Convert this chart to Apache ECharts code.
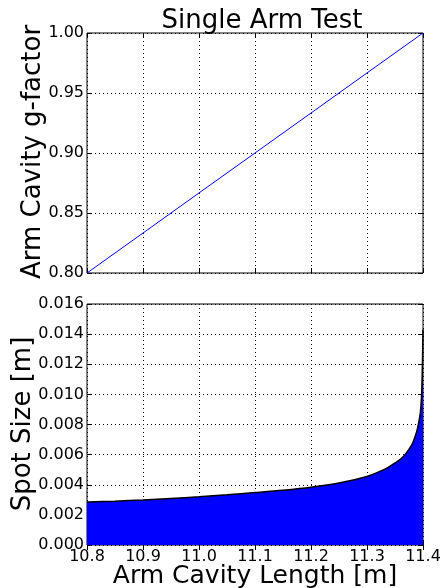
<!DOCTYPE html>
<html><head><meta charset="utf-8">
<script src="https://cdn.jsdelivr.net/npm/echarts@6/dist/echarts.min.js"></script>
<style>html,body{margin:0;padding:0;background:#fff}#c{width:443px;height:588px}</style>
</head><body><div id="c"></div>
<script>
var title = "Single Arm Test";
var xName = "Arm Cavity Length [m]";
var yName1 = "Arm Cavity g-factor";
var yName2 = "Spot Size [m]";
var gLength = [10.8, 10.9, 11.0, 11.1, 11.2, 11.3, 11.4];
var gFactor = [0.8, 0.8333, 0.8667, 0.9, 0.9333, 0.9667, 1.0];
var spotLength = [10.80, 10.85, 10.90, 10.95, 11.00, 11.05, 11.10, 11.15, 11.20, 11.25, 11.30, 11.33, 11.35, 11.36, 11.37, 11.38, 11.385, 11.39, 11.395, 11.397, 11.398, 11.399, 11.4];
var spotSize = [0.00285, 0.00291, 0.00299, 0.00309, 0.00320, 0.00333, 0.00348, 0.00364, 0.00384, 0.00412, 0.00455, 0.00500, 0.00545, 0.00570, 0.00610, 0.00665, 0.00710, 0.00770, 0.00870, 0.00960, 0.0105, 0.0120, 0.0143];

var FONT = "DejaVu Sans";
function pairs(xs, ys){ return xs.map(function(x,i){return [x, ys[i]];}); }
var split = {show:true, lineStyle:{color:'#000', type:[1,3], width:1}};
var tick = {show:true, inside:true, length:5, lineStyle:{color:'#000'}};
var lab = {fontFamily:FONT, fontSize:16, color:'#000'};
function label(txt, x, y, rot, size){
  return {type:'text', x:x, y:y, rotation:rot, z:100,
    style:{text:txt, fontFamily:FONT, fontSize:size, fill:'#000', align:'center', verticalAlign:'middle', textAlign:'center', textVerticalAlign:'middle'}};
}

var chart = echarts.init(document.getElementById('c'), null, {renderer:'canvas'});
chart.setOption({
  animation:false,
  title:{text:title, left:257, top:3, textAlign:'center', textStyle:{fontFamily:FONT, fontSize:26, fontWeight:'normal', color:'#000'}},
  graphic:[
    label(xName, 255, 576, 0, 25),
    label(yName1, 33, 152, Math.PI/2, 26),
    label(yName2, 23, 424, Math.PI/2, 26)
  ],
  grid:[
    {left:87, top:33, width:336, height:240, show:true, borderColor:'#000', borderWidth:1, backgroundColor:'#fff', containLabel:false, outerBoundsMode:'none'},
    {left:87, top:304, width:336, height:241, show:true, borderColor:'#000', borderWidth:1, backgroundColor:'#fff', containLabel:false, outerBoundsMode:'none'}
  ],
  xAxis:[
    {type:'value', gridIndex:0, min:10.8, max:11.4, interval:0.1, axisLine:{show:false}, axisTick:tick, axisLabel:{show:false}, splitLine:split},
    {type:'value', gridIndex:1, min:10.8, max:11.4, interval:0.1, axisLine:{show:false}, axisTick:tick, splitLine:split,
      axisLabel:Object.assign({margin:4, formatter:function(v){return v.toFixed(1);}}, lab)},
    {type:'value', gridIndex:0, position:'top', min:10.8, max:11.4, interval:0.1, axisLine:{show:false}, axisTick:tick, axisLabel:{show:false}, splitLine:{show:false}},
    {type:'value', gridIndex:1, position:'top', min:10.8, max:11.4, interval:0.1, axisLine:{show:false}, axisTick:tick, axisLabel:{show:false}, splitLine:{show:false}}
  ],
  yAxis:[
    {type:'value', gridIndex:0, min:0.8, max:1.0, interval:0.05, axisLine:{show:false}, axisTick:tick, splitLine:split,
      axisLabel:Object.assign({margin:3, formatter:function(v){return v.toFixed(2);}}, lab)},
    {type:'value', gridIndex:1, min:0, max:0.016, interval:0.002, axisLine:{show:false}, axisTick:tick, splitLine:split,
      axisLabel:Object.assign({margin:3, formatter:function(v){return v.toFixed(3);}}, lab)},
    {type:'value', gridIndex:0, position:'right', min:0.8, max:1.0, interval:0.05, axisLine:{show:false}, axisTick:tick, axisLabel:{show:false}, splitLine:{show:false}},
    {type:'value', gridIndex:1, position:'right', min:0, max:0.016, interval:0.002, axisLine:{show:false}, axisTick:tick, axisLabel:{show:false}, splitLine:{show:false}}
  ],
  series:[
    {type:'line', xAxisIndex:0, yAxisIndex:0, data:pairs(gLength, gFactor), showSymbol:false, symbol:'none', lineStyle:{color:'#0000ff', width:1}, z:5},
    {type:'line', xAxisIndex:1, yAxisIndex:1, data:pairs(spotLength, spotSize), showSymbol:false, symbol:'none', smooth:0.3,
      lineStyle:{color:'#000', width:1.5}, areaStyle:{color:'#0000ff', opacity:1}, z:1}
  ]
});
</script></body></html>
